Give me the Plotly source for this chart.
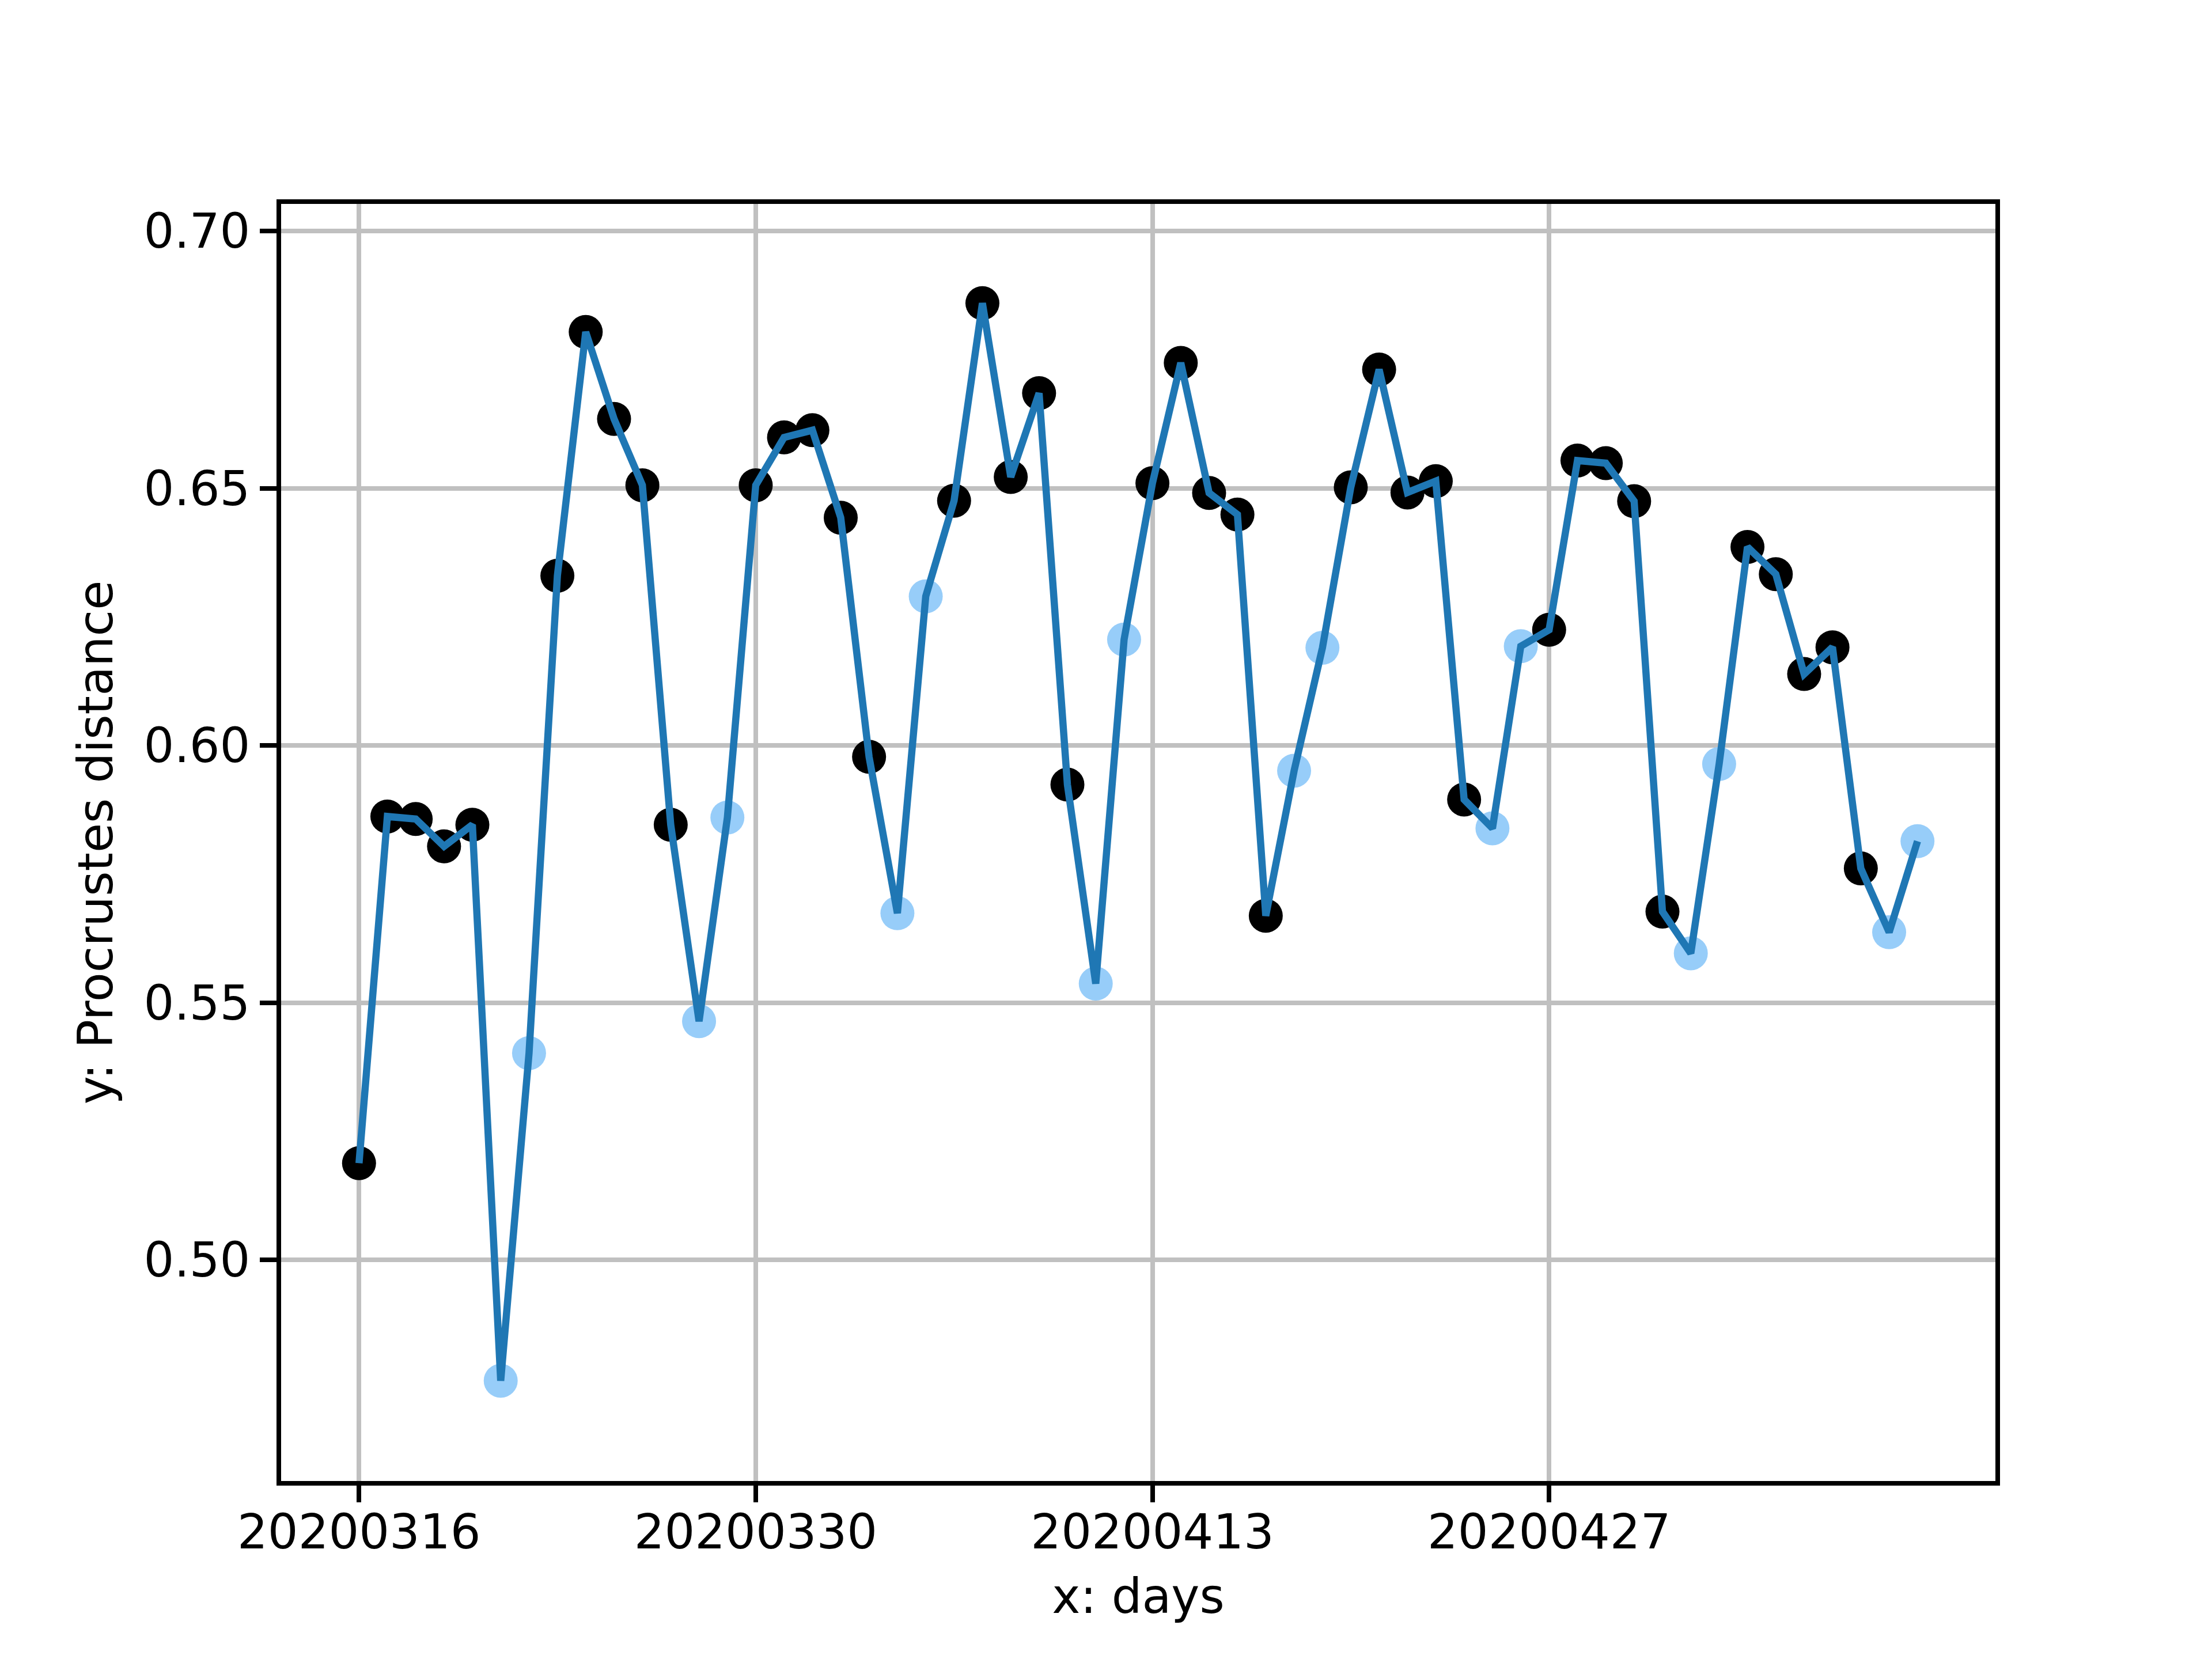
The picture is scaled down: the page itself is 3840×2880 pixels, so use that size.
import pandas as pd
import plotly.graph_objects as go

# days 20200316 .. 20200510
days = pd.date_range("2020-03-16", "2020-05-10").strftime("%Y%m%d").tolist()

procrustes = [
    0.5188, 0.5862, 0.5857, 0.5804, 0.5846, 0.4765, 0.5402,
    0.6330, 0.6804, 0.6635, 0.6506, 0.5846, 0.5464, 0.5860,
    0.6506, 0.6599, 0.6613, 0.6443, 0.5978, 0.5674, 0.6290,
    0.6476, 0.6860, 0.6522, 0.6685, 0.5924, 0.5537, 0.6206,
    0.6510, 0.6744, 0.6491, 0.6449, 0.5669, 0.5951, 0.6190,
    0.6502, 0.6731, 0.6492, 0.6514, 0.5895, 0.5839, 0.6193,
    0.6225, 0.6554, 0.6549, 0.6475, 0.5677, 0.5596, 0.5964,
    0.6386, 0.6333, 0.6139, 0.6191, 0.5761, 0.5637, 0.5814,
]

# saturday / sunday get the light colour
weekend = [pd.Timestamp(d).dayofweek >= 5 for d in days]
dot_colors = ["#97cdf9" if w else "black" for w in weekend]

tick_days = days[::14]

FONT = "DejaVu Sans"
FS = 83  # 10pt at 600 dpi
LW = 8

fig = go.Figure()

# dots first, line on top (like plt.scatter then plt.plot)
fig.add_trace(go.Scatter(
    x=days, y=procrustes, mode="markers",
    marker=dict(color=dot_colors, size=59, line=dict(width=0)),
    showlegend=False,
))
fig.add_trace(go.Scatter(
    x=days, y=procrustes, mode="lines",
    line=dict(color="#1f77b4", width=12.5),
    showlegend=False,
))

fig.update_layout(
    width=3840, height=2880,
    margin=dict(l=480, r=384, t=346, b=317),
    paper_bgcolor="white", plot_bgcolor="white",
    font=dict(family=FONT, size=FS, color="black"),
)

fig.update_xaxes(
    type="category",
    range=[-2.75, 57.75],
    tickmode="array", tickvals=tick_days, ticktext=tick_days,
    showgrid=True, gridcolor="#c0c0c0", gridwidth=LW,
    showline=True, linecolor="black", linewidth=LW, mirror=True,
    ticks="outside", ticklen=29, tickwidth=LW, tickcolor="black",
    ticklabelstandoff=-20,
    zeroline=False,
    title=dict(text="x: days", font=dict(family=FONT, size=FS), standoff=38),
)
fig.update_yaxes(
    range=[0.457, 0.7053],
    tickmode="array", tickvals=[0.50, 0.55, 0.60, 0.65, 0.70],
    tickformat=".2f",
    showgrid=True, gridcolor="#c0c0c0", gridwidth=LW,
    showline=True, linecolor="black", linewidth=LW, mirror=True,
    ticks="outside", ticklen=29, tickwidth=LW, tickcolor="black",
    zeroline=False,
    title=dict(text="y: Procrustes distance", font=dict(family=FONT, size=FS), standoff=30),
)

fig.write_html("out.html")
